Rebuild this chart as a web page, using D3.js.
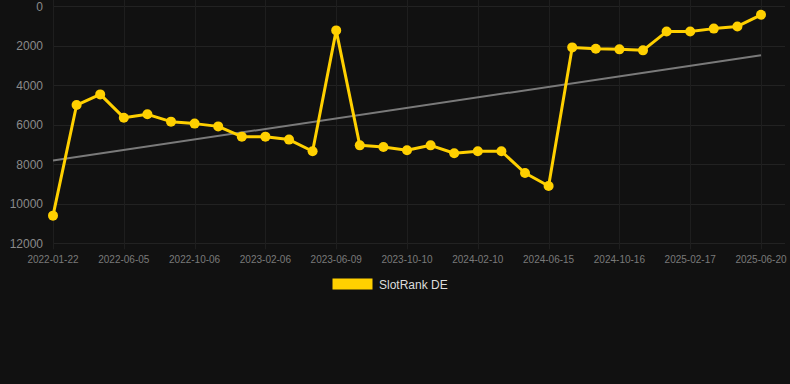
<!DOCTYPE html>
<html>
<head>
<meta charset="utf-8">
<script src="https://cdn.jsdelivr.net/npm/d3@7"></script>
<style>
  html, body { margin: 0; padding: 0; background: #111111; }
  svg { display: block; }
</style>
</head>
<body>
<svg width="790" height="384"></svg>
<script>
// categories (every 3rd one is labelled on the axis)
var dates = [
  "2022-01-22","2022-03-05","2022-04-20","2022-06-05","2022-07-16","2022-08-26",
  "2022-10-06","2022-11-16","2022-12-27","2023-02-06","2023-03-19","2023-04-29",
  "2023-06-09","2023-07-20","2023-08-30","2023-10-10","2023-11-20","2023-12-31",
  "2024-02-10","2024-03-23","2024-05-04","2024-06-15","2024-07-26","2024-09-05",
  "2024-10-16","2024-11-26","2025-01-07","2025-02-17","2025-03-30","2025-05-10",
  "2025-06-20"
]
var rank = [
  10600, 5000, 4460, 5640, 5470, 5840, 5940, 6080, 6600, 6600, 6750, 7340,
  1220, 7040, 7120, 7290, 7040, 7440, 7340, 7340, 8440, 9100, 2080, 2150,
  2180, 2230, 1280, 1280, 1130, 1020, 430
]
var yTicks = [0, 2000, 4000, 6000, 8000, 10000, 12000]
var seriesName = "SlotRank DE"

var svg = d3.select('svg'),
    plotLeft = 53, plotRight = 761, plotTop = 6.3, plotBottom = 243.3

var x = d3.scalePoint()
    .domain(dates)
    .range([plotLeft, plotRight])

var y = d3.scaleLinear()
    .domain([0, 12000])
    .range([plotTop, plotBottom])

// grid
svg.append('g')
    .selectAll('line')
    .data(yTicks)
    .enter().append('line')
    .attr('x1', plotLeft).attr('x2', 785)
    .attr('y1', function(d) { return Math.round(y(d)) + 0.5 })
    .attr('y2', function(d) { return Math.round(y(d)) + 0.5 })
    .attr('stroke', '#222222')
    .attr('stroke-width', 1)

var labelled = dates.filter(function(d, i) { return i % 3 == 0 })

svg.append('g')
    .selectAll('line')
    .data(labelled)
    .enter().append('line')
    .attr('x1', function(d) { return Math.round(x(d)) + 0.5 })
    .attr('x2', function(d) { return Math.round(x(d)) + 0.5 })
    .attr('y1', 0).attr('y2', plotBottom + 6)
    .attr('stroke', '#1e1e1e')
    .attr('stroke-width', 1)

// y axis labels
svg.append('g')
    .selectAll('text')
    .data(yTicks)
    .enter().append('text')
    .attr('x', 43)
    .attr('y', function(d) { return y(d) })
    .attr('dy', '0.35em')
    .attr('text-anchor', 'end')
    .attr('fill', '#8a8a8a')
    .style('font-family', 'Liberation Sans, Arial, sans-serif')
    .style('font-size', '12px')
    .text(function(d) { return d })

// x axis labels
svg.append('g')
    .selectAll('text')
    .data(labelled)
    .enter().append('text')
    .attr('x', function(d) { return x(d) })
    .attr('y', 263)
    .attr('text-anchor', 'middle')
    .attr('fill', '#7a7a7a')
    .style('font-family', 'Liberation Sans, Arial, sans-serif')
    .style('font-size', '10px')
    .text(function(d) { return d })

// trend line (least squares over index)
var n = rank.length
var mx = d3.mean(rank, function(d, i) { return i })
var my = d3.mean(rank)
var sxy = d3.sum(rank, function(d, i) { return (i - mx) * (d - my) })
var sxx = d3.sum(rank, function(d, i) { return (i - mx) * (i - mx) })
var slope = sxy / sxx
var icpt = my - slope * mx

svg.append('line')
    .attr('x1', x(dates[0]))
    .attr('y1', y(icpt))
    .attr('x2', x(dates[n - 1]))
    .attr('y2', y(icpt + slope * (n - 1)))
    .attr('stroke', '#7a7a7a')
    .attr('stroke-width', 2)

// series
var line = d3.line()
    .x(function(d, i) { return x(dates[i]) })
    .y(function(d) { return y(d) })

svg.append('path')
    .datum(rank)
    .attr('d', line)
    .attr('fill', 'none')
    .attr('stroke', '#ffd000')
    .attr('stroke-width', 3)
    .attr('stroke-linejoin', 'round')

svg.append('g')
    .selectAll('circle')
    .data(rank)
    .enter().append('circle')
    .attr('cx', function(d, i) { return x(dates[i]) })
    .attr('cy', function(d) { return y(d) })
    .attr('r', 5)
    .attr('fill', '#ffd000')

// legend
svg.append('rect')
    .attr('x', 332.5).attr('y', 278.5)
    .attr('width', 40).attr('height', 11)
    .attr('fill', '#ffd000')

svg.append('text')
    .attr('x', 379)
    .attr('y', 288.5)
    .attr('fill', '#dddddd')
    .style('font-family', 'Liberation Sans, Arial, sans-serif')
    .style('font-size', '12px')
    .text(seriesName)
</script>
</body>
</html>
